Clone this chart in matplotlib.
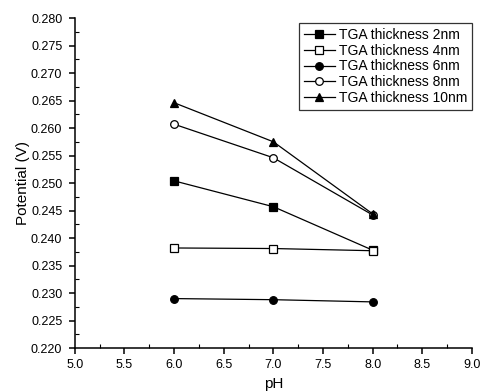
import matplotlib
matplotlib.use("Agg")
import matplotlib.pyplot as plt
from matplotlib.ticker import MultipleLocator, FormatStrFormatter

plt.rcParams["font.family"] = ["Liberation Sans", "DejaVu Sans"]

ph = [6.0, 7.0, 8.0]
tga_2nm = [0.2504, 0.2457, 0.2378]
tga_4nm = [0.2382, 0.2381, 0.2377]
tga_6nm = [0.2290, 0.2288, 0.2284]
tga_8nm = [0.2607, 0.2546, 0.2442]
tga_10nm = [0.2646, 0.2575, 0.2444]

labels = ["TGA thickness 2nm", "TGA thickness 4nm", "TGA thickness 6nm",
          "TGA thickness 8nm", "TGA thickness 10nm"]

fig = plt.figure(figsize=(4.86, 3.92), dpi=100)
ax = fig.add_axes([0.154, 0.112, 0.817, 0.842])

# (values, marker, filled)
series = [
    (tga_2nm, "s", True),
    (tga_4nm, "s", False),
    (tga_6nm, "o", True),
    (tga_8nm, "o", False),
    (tga_10nm, "^", True),
]
for (vals, m, filled), lab in zip(series, labels):
    ax.plot(ph, vals, color="black", lw=0.9, marker=m, markersize=5.5,
            markerfacecolor="black" if filled else "white",
            markeredgecolor="black", markeredgewidth=0.9, label=lab)

ax.set_xlim(5.0, 9.0)
ax.set_ylim(0.220, 0.280)
ax.xaxis.set_major_locator(MultipleLocator(0.5))
ax.xaxis.set_minor_locator(MultipleLocator(0.25))
ax.yaxis.set_major_locator(MultipleLocator(0.005))
ax.yaxis.set_minor_locator(MultipleLocator(0.0025))
ax.xaxis.set_major_formatter(FormatStrFormatter("%.1f"))
ax.yaxis.set_major_formatter(FormatStrFormatter("%.3f"))

for s in ["top", "right"]:
    ax.spines[s].set_visible(False)
for s in ["left", "bottom"]:
    ax.spines[s].set_linewidth(1.1)

ax.tick_params(which="major", direction="out", length=4, width=1.1,
               labelsize=9)
ax.tick_params(axis="x", which="major", pad=4)
ax.tick_params(axis="y", which="major", pad=5)
ax.tick_params(which="minor", direction="in", length=3, width=0.8)

ax.set_xlabel("pH", fontsize=11, labelpad=4)
ax.set_ylabel("Potential (V)", fontsize=11, labelpad=1)

leg = ax.legend(loc="upper right", bbox_to_anchor=(1.0, 0.985), fontsize=10,
                frameon=True, fancybox=False, handlelength=2.2,
                handletextpad=0.3, borderpad=0.35, labelspacing=0.13,
                borderaxespad=0.0)
leg.get_frame().set_edgecolor("black")
leg.get_frame().set_linewidth(0.9)

fig.savefig("out.png", dpi=100)
